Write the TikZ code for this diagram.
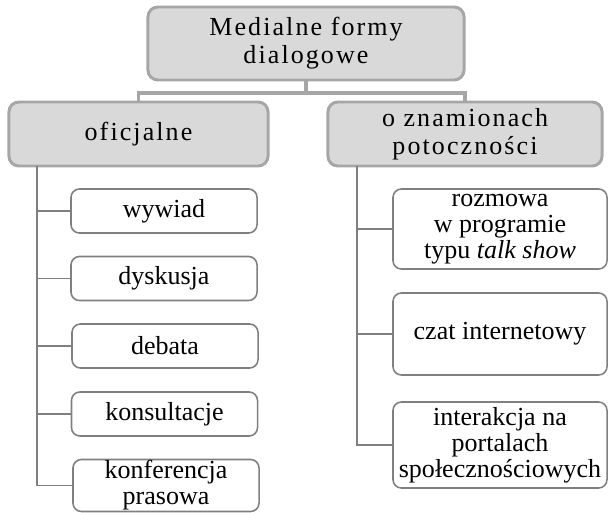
\documentclass[tikz,border=0pt]{standalone}
\usepackage{fontspec}
\setmainfont{Liberation Serif}
\newfontfamily\spacedfont[LetterSpace=8]{Liberation Serif}
\usepackage{tikz}
\usetikzlibrary{arrows.meta}
\usepackage{xcolor}

\definecolor{headfill}{HTML}{D9D9D9}
\definecolor{headline}{HTML}{A6A6A6}
\definecolor{childline}{HTML}{7F7F7F}

\tikzset{
  headbox/.style={draw=headline, fill=headfill, line width=2.1pt, rounded corners=7pt,
    align=center, inner sep=0pt, font=\spacedfont\fontsize{18.5}{20}\selectfont},
  leafbox/.style={draw=childline, fill=white, line width=1.1pt, rounded corners=6pt,
    align=center, inner sep=0pt, font=\fontsize{18.5}{18.4}\selectfont},
  headlink/.style={draw=headline, line width=2.8pt},
  leaflink/.style={draw=childline, line width=1.2pt}
}

\begin{document}
\begin{tikzpicture}[x=0.025cm,y=-0.025cm]

\useasboundingbox (0,0) rectangle (610,512);

% top level
\node[headbox, minimum width=7.9cm, minimum height=1.825cm] (medialne) at (306,43.5) {Medialne formy\\dialogowe};

% two branches
\node[headbox, minimum width=6.475cm, minimum height=1.6cm] (oficjalne) at (138.5,134) {oficjalne};
\node[headbox, minimum width=6.85cm, minimum height=1.6cm] (potoczne) at (465,134) {o znamionach\\potoczności};

\coordinate (split) at (306,93);
\draw[headlink] (medialne.south) -- (split);
\draw[headlink] (oficjalne.north) |- (split) -| (potoczne.north);


% left column
\node[leafbox, minimum width=4.65cm, minimum height=1.1cm] (wywiad) at (164,211) {wywiad};
\node[leafbox, minimum width=4.65cm, minimum height=1.1cm] (dyskusja) at (164,278.5) {dyskusja};
\node[leafbox, minimum width=4.65cm, minimum height=1.1cm] (debata) at (165,346) {debata};
\node[leafbox, minimum width=4.65cm, minimum height=1.1cm] (konsultacje) at (164.5,414) {konsultacje};
\node[leafbox, minimum width=4.65cm, minimum height=1.3cm] (konferencja) at (166,485.5) {konferencja\\prasowa};

\coordinate (lefttrunk) at (37,166);
\foreach \leaf in {wywiad,dyskusja,debata,konsultacje,konferencja}
  \draw[leaflink] (lefttrunk) |- (\leaf.west);


% right column
\node[leafbox, minimum width=5.35cm, minimum height=2cm] (rozmowa) at (500,229) {rozmowa\\w programie\\typu \textit{talk show}};
\node[leafbox, minimum width=5.35cm, minimum height=2.05cm] (czat) at (500,334) {czat internetowy};
\node[leafbox, minimum width=5.35cm, minimum height=2.15cm] (interakcja) at (500,445) {interakcja na\\portalach\\społecznościowych};

\coordinate (righttrunk) at (357,166);
\foreach \leaf in {rozmowa,czat,interakcja}
  \draw[leaflink] (righttrunk) |- (\leaf.west);
\end{tikzpicture}
\end{document}
